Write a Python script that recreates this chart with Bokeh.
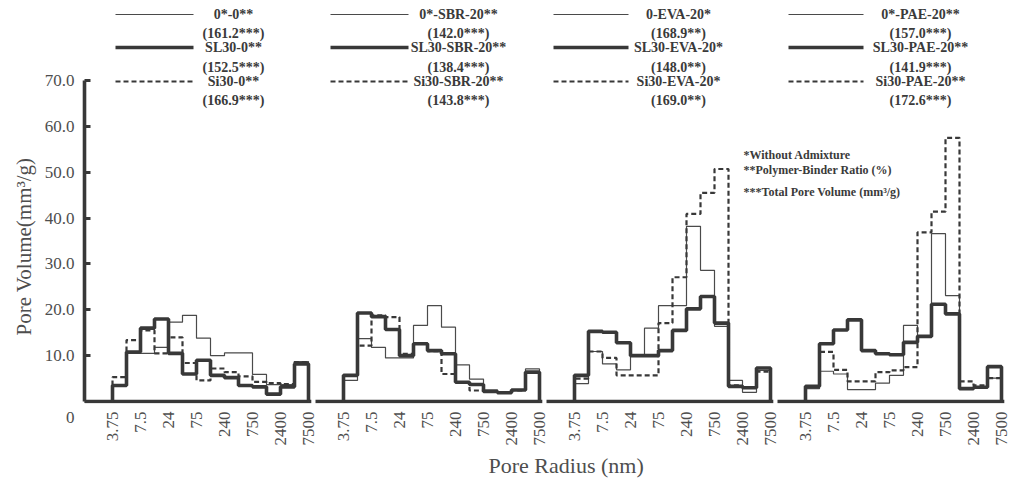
import math
from bokeh.plotting import figure
from bokeh.models import FixedTicker, Title, PrintfTickFormatter, Range1d
from bokeh.core.properties import value
from bokeh.embed import file_html
from bokeh.resources import INLINE

# ---------------- data ----------------
tick_labels = ["3.75", "7.5", "24", "75", "240", "750", "2400", "7500"]
panel_names = ["0", "SBR", "EVA", "PAE"]

# 14 pore-size classes per panel (two classes between labelled radii)
plain_0 = [3.5, 10.5, 10.5, 11.8, 17.3, 18.8, 13.8, 10.0, 10.6, 10.6, 5.9, 3.7, 3.7, 8.7]
sl30_0 = [3.5, 10.8, 16.0, 18.0, 10.5, 6.0, 9.0, 5.7, 5.2, 3.5, 3.2, 1.6, 3.2, 8.2]
si30_0 = [5.3, 13.4, 15.5, 10.5, 14.0, 8.4, 4.6, 7.2, 6.4, 5.5, 4.3, 4.0, 3.8, 8.6]

plain_sbr = [4.6, 13.7, 11.8, 9.5, 9.5, 16.6, 20.9, 16.2, 8.0, 4.9, 2.5, 2.0, 2.5, 7.1]
sl30_sbr = [5.7, 19.3, 18.5, 15.7, 10.0, 12.6, 11.1, 10.4, 4.2, 3.7, 2.2, 1.9, 2.5, 6.4]
si30_sbr = [5.7, 12.2, 18.8, 18.4, 10.4, 12.6, 11.0, 6.0, 4.2, 2.4, 2.2, 1.9, 2.4, 6.4]

plain_eva = [3.9, 10.9, 8.2, 6.9, 10.0, 16.0, 20.9, 20.9, 38.2, 28.6, 16.4, 4.6, 2.0, 6.8]
sl30_eva = [5.7, 15.3, 15.1, 12.8, 10.0, 10.0, 11.1, 15.5, 20.2, 22.9, 17.1, 3.3, 3.0, 7.3]
si30_eva = [5.0, 10.9, 9.5, 5.7, 5.7, 5.7, 17.1, 27.1, 40.9, 45.5, 50.7, 3.5, 3.0, 6.5]

plain_pae = [2.8, 6.6, 6.0, 2.6, 2.6, 4.0, 5.7, 16.6, 14.2, 36.6, 23.1, 2.8, 3.0, 5.1]
sl30_pae = [3.3, 12.6, 15.6, 17.8, 11.1, 10.4, 10.2, 12.9, 14.2, 21.2, 19.1, 2.8, 3.1, 7.6]
si30_pae = [3.3, 10.8, 6.9, 4.4, 4.4, 6.4, 6.8, 7.5, 36.9, 41.4, 57.5, 4.4, 3.5, 5.1]

legend_names = [
    ["0*-0**", "SL30-0**", "Si30-0**"],
    ["0*-SBR-20**", "SL30-SBR-20**", "Si30-SBR-20**"],
    ["0-EVA-20*", "SL30-EVA-20*", "Si30-EVA-20*"],
    ["0*-PAE-20**", "SL30-PAE-20**", "Si30-PAE-20**"],
]
legend_totals = [
    ["(161.2***)", "(152.5***)", "(166.9***)"],
    ["(142.0***)", "(138.4***)", "(143.8***)"],
    ["(168.9**)", "(148.0**)", "(169.0**)"],
    ["(157.0***)", "(141.9***)", "(172.6***)"],
]
notes = ["*Without Admixture", "**Polymer-Binder Ratio (%)", "***Total Pore Volume (mm\u00b3/g)"]

y_ticks = [0, 10, 20, 30, 40, 50, 60, 70]
x_title = "Pore Radius (nm)"
y_title = "Pore Volume(mm\u00b3/g)"

series = [
    [plain_0, sl30_0, si30_0],
    [plain_sbr, sl30_sbr, si30_sbr],
    [plain_eva, sl30_eva, si30_eva],
    [plain_pae, sl30_pae, si30_pae],
]

# ---------------- layout helpers ----------------
W, H = 1014, 484
FL, FR, FT, FB = 84, 4, 0, 81          # frame borders (px)
PXU_X = 7.0                              # px per x unit (one class = 2 units)
Y0_PX = 401                              # pixel row of value 0
PXU_Y = (401 - 80) / 70.0                # px per y unit
frame_w = W - FL - FR
frame_h = H - FT - FB
x_start = -4.0
x_end = x_start + frame_w / PXU_X
y_start = -(FT + frame_h - Y0_PX) / PXU_Y
y_end = y_start + frame_h / PXU_Y
OFFSET = 33                              # panel offset in x units

def dx(px):
    return (px - FL) / PXU_X + x_start

def dy(py):
    return (Y0_PX - py) / PXU_Y

LINE = "#383838"
TXT = "#4e4e4e"
BTXT = "#3a3a3a"
SERIF = "Liberation Serif"

p = figure(width=W, height=H, output_backend="svg", toolbar_location=None,
           title=None, x_range=Range1d(x_start, x_end), y_range=Range1d(y_start, y_end),
           min_border_left=FL, min_border_right=FR, min_border_top=FT, min_border_bottom=FB)
p.outline_line_color = None
p.xgrid.visible = False
p.ygrid.visible = False
p.background_fill_color = "white"
p.border_fill_color = "white"

# ---------------- histograms ----------------
styles = [
    dict(line_width=1.2, line_color="#4a4a4a"),
    dict(line_width=3.6, line_color=LINE),
    dict(line_width=2.2, line_color=LINE, line_dash="5 3"),
]
draw_order = [0, 2, 1]
for k, group in enumerate(series):
    base = k * OFFSET
    edges = [base + 2 * i for i in range(15)]
    # panel baseline
    p.segment(x0=[base - 4], y0=[0], x1=[base + 28.4], y1=[0], line_color=LINE, line_width=3.6)
    for s in draw_order:
        vals = group[s]
        xs = [edges[0]] + edges[:14] + [edges[14]]
        ys = [0] + list(vals) + [0]
        p.step(x=xs, y=ys, mode="after", **styles[s])

# ---------------- axes ----------------
xt = []
overrides = {}
for k in range(4):
    for j, lab in enumerate(tick_labels):
        t = k * OFFSET + 4 * j
        xt.append(t)
        overrides[t] = lab
xa = p.xaxis[0]
xa.ticker = FixedTicker(ticks=xt)
xa.major_label_overrides = overrides
xa.major_label_orientation = math.pi / 2
xa.axis_line_color = None
xa.major_tick_line_color = None
xa.minor_tick_line_color = None
xa.major_label_standoff = 2
xa.major_label_text_font = SERIF
xa.major_label_text_font_size = "17px"
xa.major_label_text_color = TXT

ya = p.yaxis[0]
ya.ticker = FixedTicker(ticks=y_ticks)
ya.formatter = PrintfTickFormatter(format="%.1f")
ya.major_label_overrides = {0: "\n\n0"}
ya.major_label_text_line_height = 0.85
ya.bounds = (0, 70)
ya.axis_line_width = 3.6
ya.axis_line_color = LINE
ya.major_tick_in = 6
ya.major_tick_out = 0
ya.major_tick_line_width = 3
ya.major_tick_line_color = LINE
ya.minor_tick_line_color = None
ya.major_label_standoff = 10
ya.major_label_text_font = SERIF
ya.major_label_text_font_size = "17px"
ya.major_label_text_color = TXT

# axis titles as side-panel titles (positioned along the frame by offset)
p.add_layout(Title(text=x_title, align="left", offset=404, standoff=4, text_font=SERIF,
                   text_font_size="22px", text_font_style="normal", text_color=TXT), "below")
p.add_layout(Title(text=y_title, align="left", offset=68, standoff=11, text_font=SERIF,
                   text_font_size="21px", text_font_style="normal", text_color=TXT), "left")

# ---------------- legend ----------------
col_lines = [(115, 193), (330, 408), (553, 628), (788, 863)]
col_text = [233, 458, 678, 920]
row_line_py = [14, 47, 81]
row_total_py = [33, 67, 100]
for c in range(4):
    for r in range(3):
        st = styles[r]
        p.segment(x0=[dx(col_lines[c][0])], y0=[dy(row_line_py[r])],
                  x1=[dx(col_lines[c][1])], y1=[dy(row_line_py[r])], **st)
        p.text(x=[dx(col_text[c])], y=[dy(row_line_py[r])], text=[legend_names[c][r]],
               text_font=value(SERIF), text_font_style="bold", text_font_size="14px",
               text_align="center", text_baseline="middle", text_color=BTXT)
        p.text(x=[dx(col_text[c])], y=[dy(row_total_py[r])], text=[legend_totals[c][r]],
               text_font=value(SERIF), text_font_style="bold", text_font_size="14px",
               text_align="center", text_baseline="middle", text_color=BTXT)

# notes
note_py = [154, 169, 191]
for t, py in zip(notes, note_py):
    p.text(x=[dx(743)], y=[dy(py)], text=[t], text_font=value(SERIF), text_font_style="bold",
           text_font_size="12px", text_align="left", text_baseline="middle", text_color=BTXT)

open("out.html", "w").write(file_html(p, INLINE))
